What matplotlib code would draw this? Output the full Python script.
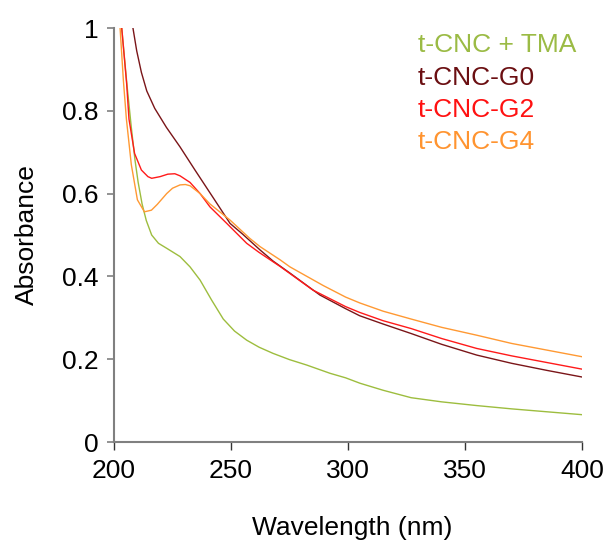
import matplotlib
matplotlib.use("Agg")
import matplotlib.pyplot as plt

plt.rcParams['font.family'] = ['Liberation Sans', 'DejaVu Sans']

# UV-vis spectra (wavelength in nm, absorbance)
tma_x = [201.0, 203.3, 205.5, 207.4, 209.0, 210.3, 212.0, 213.8, 216.1, 219.0, 222.5,
         228.2, 232.5, 236.8, 241.7, 246.7, 251.5, 256.7, 262.0, 268.0, 275.0, 282.3,
         292.3, 299.0, 305.1, 315.0, 327.0, 340.0, 355.0, 370.0, 385.0, 400.0]
tma_y = [1.25, 1.0, 0.865, 0.76, 0.68, 0.628, 0.575, 0.535, 0.50, 0.48, 0.468,
         0.448, 0.423, 0.391, 0.343, 0.297, 0.268, 0.246, 0.229, 0.214, 0.199, 0.186,
         0.166, 0.155, 0.142, 0.125, 0.107, 0.097, 0.088, 0.080, 0.073, 0.066]

g0_x = [206.0, 208.1, 209.7, 211.7, 214.0, 217.4, 222.4, 228.2, 234.6, 242.4, 249.6,
        255.0, 262.4, 268.0, 275.2, 288.0, 299.0, 305.0, 315.0, 327.0, 340.0, 355.0,
        370.0, 385.0, 400.0]
g0_y = [1.08, 1.0, 0.945, 0.893, 0.848, 0.806, 0.760, 0.713, 0.657, 0.59, 0.528,
        0.502, 0.464, 0.437, 0.408, 0.355, 0.322, 0.305, 0.285, 0.262, 0.236, 0.21,
        0.19, 0.173, 0.157]

g2_x = [201.5, 203.3, 205.4, 206.4, 208.8, 211.7, 214.5, 216.1, 219.7, 223.0, 226.0,
        228.2, 232.5, 236.8, 241.0, 248.2, 256.7, 262.0, 271.0, 285.0, 299.0, 305.0,
        315.0, 327.0, 340.0, 355.0, 370.0, 385.0, 400.0]
g2_y = [1.2, 1.0, 0.866, 0.78, 0.697, 0.657, 0.641, 0.637, 0.641, 0.647, 0.648,
        0.643, 0.627, 0.60, 0.568, 0.528, 0.48, 0.458, 0.424, 0.367, 0.327, 0.313,
        0.293, 0.274, 0.25, 0.226, 0.208, 0.192, 0.176]

g4_x = [201.0, 202.6, 204.0, 205.3, 207.4, 210.0, 213.0, 216.0, 218.5, 222.5, 225.0,
        228.2, 230.5, 232.5, 236.8, 241.0, 249.6, 258.0, 262.4, 271.0, 275.2, 289.4,
        299.0, 305.0, 315.0, 327.0, 340.0, 355.0, 370.0, 385.0, 400.0]
g4_y = [1.2, 1.0, 0.874, 0.78, 0.67, 0.585, 0.556, 0.56, 0.574, 0.60, 0.613,
        0.621, 0.622, 0.619, 0.60, 0.575, 0.536, 0.492, 0.472, 0.44, 0.423, 0.378,
        0.35, 0.336, 0.316, 0.297, 0.277, 0.258, 0.238, 0.222, 0.206]

names = ['t-CNC + TMA', 't-CNC-G0', 't-CNC-G2', 't-CNC-G4']
line_colors = ['#9dbd3e', '#7a1518', '#ff1a1a', '#ff9933']
text_colors = ['#9bbb45', '#6b0f12', '#ff1111', '#ff9430']

fig = plt.figure(figsize=(6.08, 5.42), dpi=100)
ax = fig.add_axes([0.1875, 0.1845, 0.7697, 0.7638])

series = [(tma_x, tma_y), (g0_x, g0_y), (g2_x, g2_y), (g4_x, g4_y)]
for (xs, ys), c in zip(series, line_colors):
    ax.plot(xs, ys, color=c, lw=1.0)

ax.set_xlim(200, 400)
ax.set_ylim(0, 1)
ax.set_xticks([200, 250, 300, 350, 400])
ax.set_yticks([0, 0.2, 0.4, 0.6, 0.8, 1.0])
ax.set_yticklabels(['0', '0.2', '0.4', '0.6', '0.8', '1'])

for s in ['top', 'right']:
    ax.spines[s].set_visible(False)
for s in ['left', 'bottom']:
    ax.spines[s].set_color('#808080')
    ax.spines[s].set_linewidth(1.5)

ax.tick_params(axis='x', direction='out', length=6, width=1.0, color='#333333',
               labelsize=19, pad=6)
ax.tick_params(axis='y', direction='out', length=5, width=1.2, color='#808080',
               labelsize=19, pad=6)

ax.set_xlabel('Wavelength (nm)', fontsize=19)
ax.set_ylabel('Absorbance', fontsize=19)
ax.xaxis.set_label_coords(0.51, -0.179)
ax.yaxis.set_label_coords(-0.16, 0.5)

# coloured text labels instead of a legend box
ys_lab = [0.917, 0.856, 0.797, 0.738]
for name, c, yl in zip(names, text_colors, ys_lab):
    fig.text(0.6875, yl, name, color=c, fontsize=19, va='center', ha='left')

fig.savefig('out.png', dpi=100)
